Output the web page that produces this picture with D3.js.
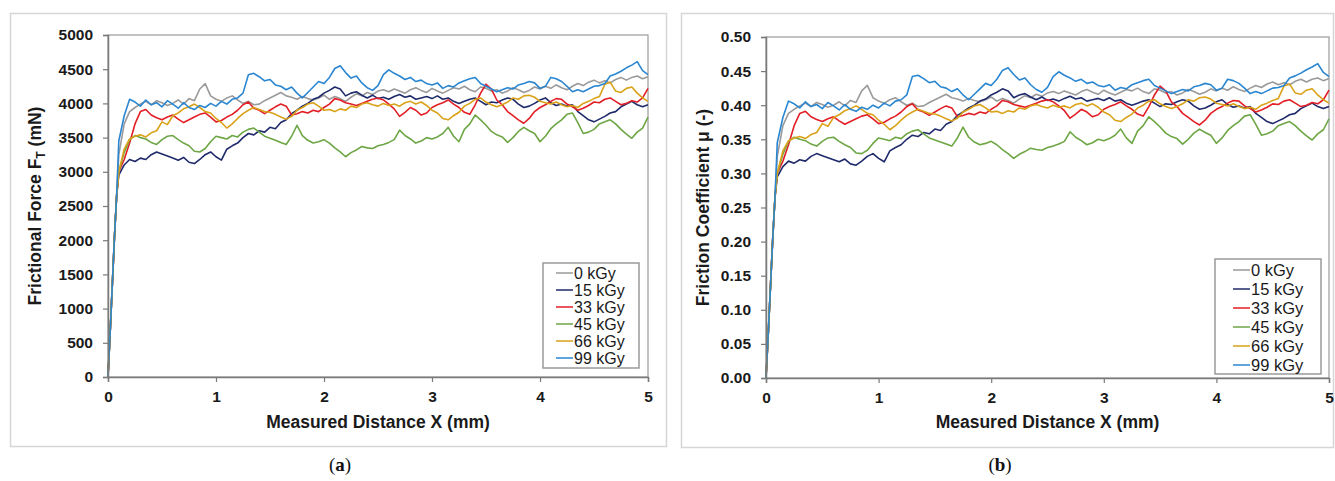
<!DOCTYPE html>
<html>
<head>
<meta charset="utf-8">
<script src="https://cdn.jsdelivr.net/npm/d3@7"></script>
<style>
    body { margin: 0; background: #fff; }
    svg { display: block; font-family: "Liberation Sans", Arial, sans-serif; }
</style>
</head>
<body>
<div id="chart"></div>
<script>

// series names + colours
var doses = ['0 kGy', '15 kGy', '33 kGy', '45 kGy', '66 kGy', '99 kGy'];
var doseColours = ['#9a9a9a', '#1f2a6b', '#e21f26', '#6ea646', '#d9a219', '#2a86d1'];

// start of the run, shared by all samples
var rampDistance = [0, 0.02, 0.04, 0.06, 0.08];
var rampForce = [0, 650, 1350, 2050, 2650];

// measured distance (mm) after the ramp
var distance = [
    0.10, 0.15, 0.20, 0.25, 0.30, 0.35, 0.40, 0.45, 0.50, 0.55,
    0.60, 0.65, 0.70, 0.75, 0.80, 0.85, 0.90, 0.95, 1.00, 1.05,
    1.10, 1.15, 1.20, 1.25, 1.30, 1.35, 1.40, 1.45, 1.50, 1.55,
    1.60, 1.65, 1.70, 1.75, 1.80, 1.85, 1.90, 1.95, 2.00, 2.05,
    2.10, 2.15, 2.20, 2.25, 2.30, 2.35, 2.40, 2.45, 2.50, 2.55,
    2.60, 2.65, 2.70, 2.75, 2.80, 2.85, 2.90, 2.95, 3.00, 3.05,
    3.10, 3.15, 3.20, 3.25, 3.30, 3.35, 3.40, 3.45, 3.50, 3.55,
    3.60, 3.65, 3.70, 3.75, 3.80, 3.85, 3.90, 3.95, 4.00, 4.05,
    4.10, 4.15, 4.20, 4.25, 4.30, 4.35, 4.40, 4.45, 4.50, 4.55,
    4.60, 4.65, 4.70, 4.75, 4.80, 4.85, 4.90, 4.95, 5.00
];

// frictional force F_T (mN), one list per dose
var force0 = [
    3250, 3700, 3880, 3940, 3990, 4030, 3980, 4040, 4010, 3970,
    4000, 4050, 3990, 4070, 4040, 4210, 4290, 4110, 4060, 4030,
    4080, 4110, 4050, 4000, 4030, 3980, 3990, 4040, 4080, 4120,
    4160, 4110, 4090, 4060, 4100, 4070, 4050, 4080, 4120, 4060,
    4100, 4070, 4030, 4090, 4140, 4110, 4160, 4130, 4180, 4200,
    4170, 4210, 4180, 4150, 4200, 4230, 4190, 4160, 4220, 4180,
    4150, 4190, 4230, 4210, 4250, 4200, 4170, 4240, 4220, 4180,
    4200, 4150, 4180, 4230, 4200, 4160, 4190, 4240, 4210, 4250,
    4220, 4270, 4230, 4200, 4250, 4290, 4260, 4310, 4340, 4300,
    4330, 4300, 4350, 4380, 4340, 4380, 4400, 4360, 4390
];
var force15 = [
    2950, 3100, 3180, 3150, 3200, 3180, 3250, 3290, 3260, 3230,
    3200, 3170, 3210, 3140, 3120, 3180, 3250, 3290, 3220, 3170,
    3330, 3380, 3420, 3500, 3560, 3540, 3600, 3580, 3650, 3630,
    3720, 3760, 3850, 3900, 3960, 4000, 4060, 4090, 4150, 4190,
    4240, 4210, 4110, 4150, 4170, 4120, 4080, 4120, 4070, 4090,
    4060, 4100, 4130, 4090, 4110, 4060, 4080, 4100, 4070, 4110,
    4060, 4080, 4030, 4000, 4030, 4060, 4080, 4030, 3980, 4020,
    4010, 4050, 4080, 4060, 3990, 3940, 3960, 4000, 4050, 4080,
    4010, 3970, 3990, 3960, 3980, 3880, 3820, 3760, 3730, 3770,
    3810, 3860, 3880, 3950, 3990, 4030, 3980, 3950, 3980
];
var force33 = [
    3000, 3180, 3420, 3700, 3880, 3910, 3830, 3790, 3760, 3800,
    3830, 3770, 3720, 3760, 3800, 3840, 3860, 3800, 3730, 3750,
    3800, 3840, 3900, 3980, 4020, 3930, 3900, 3850, 3900, 3950,
    3990, 3960, 3830, 3850, 3880, 3860, 3900, 3880, 3940, 3990,
    4070, 4050, 4010, 3990, 3970, 4000, 4030, 4060, 4080, 4050,
    3990, 3920, 3810, 3870, 3940, 3900, 3830, 3860, 3940, 3980,
    4010, 4050, 3990, 3940, 3870, 3840, 3980, 4150, 4280, 4210,
    4050, 3980, 3880, 3820, 3760, 3710, 3780, 3880, 3940, 3980,
    4030, 4070, 4060, 3990, 3950, 3900, 3930, 3970, 4020, 4010,
    4060, 4080, 4030, 3980, 4000, 4040, 4020, 4080, 4220
];
var force45 = [
    3000, 3280, 3470, 3530, 3500, 3480, 3430, 3400, 3470, 3520,
    3530, 3470, 3420, 3380, 3300, 3290, 3340, 3440, 3520, 3500,
    3480, 3530, 3510, 3580, 3620, 3640, 3580, 3520, 3490, 3460,
    3430, 3400, 3520, 3680, 3530, 3460, 3420, 3440, 3470, 3420,
    3350, 3290, 3220, 3280, 3320, 3370, 3350, 3340, 3380, 3400,
    3430, 3470, 3610, 3530, 3480, 3420, 3450, 3500, 3480, 3510,
    3560, 3650, 3520, 3440, 3620, 3700, 3830, 3760, 3680, 3590,
    3540, 3510, 3430, 3500, 3590, 3650, 3600, 3560, 3440, 3520,
    3630, 3700, 3760, 3840, 3860, 3720, 3560, 3580, 3620, 3700,
    3730, 3760, 3700, 3620, 3550, 3490, 3580, 3640, 3800
];
var force66 = [
    3000, 3330, 3480, 3520, 3540, 3510, 3570, 3600, 3730, 3690,
    3820, 3860, 3920, 3950, 3990, 3940, 3880, 3860, 3780, 3720,
    3640, 3700, 3780, 3850, 3900, 3940, 3910, 3880, 3870, 3840,
    3800, 3770, 3810, 3900, 3940, 3990, 4010, 3960, 3900, 3910,
    3880, 3920, 3900, 3960, 3940, 3990, 4010, 3980, 3960, 4000,
    3970, 3990, 3960, 4010, 4030, 3990, 4020, 3970, 3900, 3860,
    3780, 3760, 3820, 3870, 3960, 4000, 4060, 4080, 4020, 3980,
    3950, 3980, 4020, 4080, 4060, 4110, 4120, 4090, 4030, 4010,
    3990, 4020, 3980, 3950, 3970, 3940, 4000, 4030, 4070, 4100,
    4280, 4310, 4180, 4160, 4220, 4240, 4150, 4080, 4030
];
var force99 = [
    3450, 3820, 4060, 4020, 3960, 4050, 3980, 4010, 3950, 4040,
    3990, 3930, 4010, 3940, 3910, 3970, 3940, 4000, 3960, 4030,
    3990, 4060, 4080, 4150, 4420, 4440, 4390, 4330, 4350, 4270,
    4250, 4200, 4240, 4150, 4080, 4160, 4240, 4320, 4290, 4380,
    4510, 4550, 4450, 4370, 4400, 4300, 4230, 4190, 4260, 4420,
    4490, 4440, 4400, 4350, 4380, 4320, 4340, 4290, 4270, 4300,
    4220, 4260, 4240, 4300, 4330, 4360, 4380, 4290, 4250, 4210,
    4170, 4200, 4230, 4210, 4270, 4290, 4320, 4300, 4220, 4250,
    4380, 4360, 4320, 4250, 4170, 4200, 4170, 4210, 4250, 4260,
    4290, 4400, 4430, 4470, 4520, 4560, 4610, 4480, 4420
];

var forces = [force0, force15, force33, force45, force66, force99];

// normal load (mN) used to get the friction coefficient
var normalLoad = 10000;

var xTicks = [0, 1, 2, 3, 4, 5];
var forceTicks = d3.range(0, 5001, 500);
var muTicks = d3.range(0, 0.501, 0.05);

var svg = d3.select('#chart')
    .append('svg')
    .attr('width', 1335)
    .attr('height', 481);

function buildSeries(scale) {
    return doses.map(function(dose, i) {
        var pts = [];
        rampDistance.forEach(function(x, j) {
            pts.push({ x: x, y: rampForce[j] * scale });
        });
        distance.forEach(function(x, j) {
            pts.push({ x: x, y: forces[i][j] * scale });
        });
        return { key: dose, colour: doseColours[i], values: pts };
    });
}

function drawPanel(opt) {
    var g = svg.append('g');

    // outer frame of the figure panel
    g.append('rect')
        .attr('x', opt.frame[0] + 0.5)
        .attr('y', opt.frame[1] + 0.5)
        .attr('width', opt.frame[2])
        .attr('height', opt.frame[3])
        .attr('fill', 'none')
        .attr('stroke', '#d6d6d6')
        .attr('stroke-width', 1.5);

    var x = d3.scaleLinear().domain([0, 5]).range([opt.left, opt.right]);
    var y = d3.scaleLinear().domain(opt.yDomain).range([opt.bottom, opt.top]);

    // plot box
    g.append('rect')
        .attr('x', opt.left)
        .attr('y', opt.top)
        .attr('width', opt.right - opt.left)
        .attr('height', opt.bottom - opt.top)
        .attr('fill', 'none')
        .attr('stroke', '#9a9a9a')
        .attr('stroke-width', 1.2);

    var line = d3.line()
        .x(function(d) { return x(d.x); })
        .y(function(d) { return y(d.y); });

    g.append('g')
        .selectAll('path')
        .data(opt.series)
        .enter()
        .append('path')
        .attr('d', function(d) { return line(d.values); })
        .attr('fill', 'none')
        .attr('stroke', function(d) { return d.colour; })
        .attr('stroke-width', 1.6)
        .attr('stroke-linejoin', 'round');

    var xAxis = g.append('g')
        .attr('transform', 'translate(0,' + opt.bottom + ')')
        .call(d3.axisBottom(x).tickValues(xTicks).tickSize(5).tickPadding(9).tickFormat(d3.format('d')));

    var yAxis = g.append('g')
        .attr('transform', 'translate(' + opt.left + ',0)')
        .call(d3.axisLeft(y).tickValues(opt.yTicks).tickSize(5).tickPadding(opt.yPad).tickFormat(opt.yFormat));

    [xAxis, yAxis].forEach(function(a) {
        a.select('.domain').attr('stroke', '#7a7a7a').attr('stroke-width', 1.5);
        a.selectAll('.tick line').attr('stroke', '#7a7a7a').attr('stroke-width', 1.2);
        a.selectAll('.tick text')
            .attr('fill', '#1a1a1a')
            .style('font-size', '15.5px')
            .style('font-weight', 'bold')
            .style('font-family', '"Liberation Sans", Arial, sans-serif');
    });

    g.append('text')
        .attr('x', (opt.left + opt.right) / 2)
        .attr('y', 428)
        .attr('text-anchor', 'middle')
        .attr('fill', '#1a1a1a')
        .style('font-size', '17.5px')
        .style('font-weight', 'bold')
        .text('Measured Distance X (mm)');

    var yt = g.append('text')
        .attr('transform', 'translate(' + opt.yTitleX + ',' + (opt.top + opt.bottom) / 2 + ') rotate(-90)')
        .attr('text-anchor', 'middle')
        .attr('fill', '#1a1a1a')
        .style('font-size', '17.5px')
        .style('font-weight', 'bold');
    opt.yTitle(yt);

    // legend
    var lg = g.append('g')
        .attr('transform', 'translate(' + opt.legend.x + ',' + opt.legend.y + ')');
    lg.append('rect')
        .attr('width', opt.legend.w)
        .attr('height', opt.legend.h)
        .attr('fill', '#fff')
        .attr('stroke', '#9a9a9a')
        .attr('stroke-width', 1.5);
    var item = lg.selectAll('g.item')
        .data(opt.series)
        .enter()
        .append('g')
        .attr('class', 'item')
        .attr('transform', function(d, i) {
            return 'translate(0,' + (opt.legend.pad + i * opt.legend.step) + ')';
        });
    item.append('line')
        .attr('x1', opt.legend.lineX)
        .attr('x2', opt.legend.lineX + opt.legend.lineW)
        .attr('stroke', function(d) { return d.colour; })
        .attr('stroke-width', 1.5);
    item.append('text')
        .attr('x', opt.legend.lineX + opt.legend.lineW + 1)
        .attr('dy', '0.35em')
        .attr('fill', '#1a1a1a')
        .style('font-size', opt.legend.font + 'px')
        .text(function(d) { return d.key; });

    // panel letter
    var lab = svg.append('text')
        .attr('x', opt.letterX)
        .attr('y', 471)
        .attr('text-anchor', 'middle')
        .attr('fill', '#111')
        .style('font-family', '"Liberation Serif", "Times New Roman", serif')
        .style('font-size', '19px');
    lab.append('tspan').text('(');
    lab.append('tspan').style('font-weight', 'bold').text(opt.letter);
    lab.append('tspan').text(')');
}

drawPanel({
    frame: [10, 13, 656, 433],
    left: 108, right: 648, top: 35, bottom: 377,
    yDomain: [0, 5000],
    yTicks: forceTicks,
    yFormat: d3.format('d'),
    yPad: 10,
    yTitleX: 41,
    yTitle: function(t) {
        t.append('tspan').text('Frictional Force F');
        t.append('tspan').attr('dy', 4).style('font-size', '12px').text('T');
        t.append('tspan').attr('dy', -4).text(' (mN)');
    },
    series: buildSeries(1),
    legend: { x: 543, y: 263, w: 96, h: 105, pad: 10, step: 17, lineX: 13, lineW: 17, font: 16 },
    letter: 'a',
    letterX: 340
});

drawPanel({
    frame: [681, 13, 652, 434],
    left: 766, right: 1329, top: 37, bottom: 378,
    yDomain: [0, 0.5],
    yTicks: muTicks,
    yFormat: d3.format('.2f'),
    yPad: 10,
    yTitleX: 709,
    yTitle: function(t) {
        t.text('Friction Coefficient \u03bc (-)');
    },
    series: buildSeries(1 / normalLoad),
    legend: { x: 1215, y: 259, w: 106, h: 115, pad: 11, step: 19, lineX: 18, lineW: 17, font: 16.5 },
    letter: 'b',
    letterX: 1000
});

</script>
</body>
</html>
